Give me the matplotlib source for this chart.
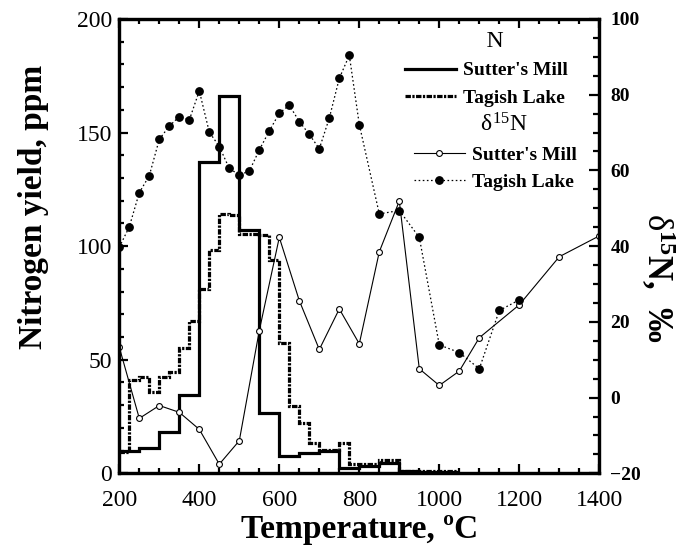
import matplotlib
matplotlib.use('Agg')
import matplotlib.pyplot as plt
from matplotlib.ticker import MultipleLocator
from matplotlib.lines import Line2D

plt.rcParams['font.family'] = ['Liberation Serif', 'DejaVu Serif']
plt.rcParams['mathtext.fontset'] = 'custom'
plt.rcParams['mathtext.rm'] = 'Liberation Serif'
plt.rcParams['mathtext.bf'] = 'Liberation Serif:bold'
plt.rcParams['mathtext.it'] = 'Liberation Serif:italic'

# ---- Nitrogen yield (ppm), step data ----
sm_edges = [200, 250, 300, 350, 400, 450, 500, 550, 600, 650, 700, 750, 800, 850, 900, 950, 1000, 1050]
sm_n = [10.0, 11.0, 18.3, 34.5, 137, 166, 107, 26.5, 7.5, 9.0, 10.0, 2.3, 3.0, 4.5, 1.0, 0.6, 0.6]

tl_edges = [200, 225, 250, 275, 300, 325, 350, 375, 400, 425, 450, 475, 500, 525, 550, 575,
            600, 625, 650, 675, 700, 725, 750, 775, 800, 850, 900, 950, 1000, 1050]
tl_n = [9.5, 41, 42.5, 35.6, 42.5, 44.4, 55, 67, 81, 98.3, 114, 113.5, 105.5, 105.5, 105, 94,
        57.5, 29.6, 22, 13.2, 10.3, 10.3, 13.5, 4.0, 4.2, 6.0, 1.0, 1.0, 1.0]

# ---- delta 15N (permil) ----
sm_dT = [200, 250, 300, 350, 400, 450, 500, 550, 600, 650, 700, 750, 800, 850, 900, 950,
         1000, 1050, 1100, 1200, 1300, 1400]
sm_d = [13.3, -5.5, -2.1, -3.9, -8.4, -17.6, -11.4, 17.7, 42.3, 25.6, 12.7, 23.4, 14.2, 38.5,
        51.9, 7.6, 3.2, 7.0, 15.8, 24.5, 37.2, 42.7]

tl_dT = [200, 225, 250, 275, 300, 325, 350, 375, 400, 425, 450, 475, 500, 525, 550, 575, 600,
         625, 650, 675, 700, 725, 750, 775, 800, 850, 900, 950, 1000, 1050, 1100, 1150, 1200]
tl_d = [39.7, 45.1, 54.1, 58.6, 68.2, 71.7, 74.2, 73.3, 81.0, 70.1, 66.3, 60.5, 58.8, 59.8, 65.4,
        70.4, 75.1, 77.2, 72.9, 69.5, 65.7, 73.8, 84.3, 90.4, 72.1, 48.5, 49.4, 42.3, 13.9, 11.9,
        7.6, 23.0, 25.8]

series_labels = ["Sutter's Mill", "Tagish Lake"]

tl_ls = (0, (1.7, 0.45, 0.7, 0.45))
dot_ls = (0, (1.3, 2.0))

fig = plt.figure(figsize=(6.92, 5.57), dpi=100)
ax = fig.add_axes([119.3 / 692, 1 - 473.3 / 557, 480 / 692, 454.4 / 557])

ax.stairs(sm_n, sm_edges, baseline=None, color='black', lw=2.3, linestyle='-')
ax.stairs(tl_n, tl_edges, baseline=None, color='black', lw=2.3, linestyle=tl_ls)

ax.set_xlim(200, 1400)
ax.set_ylim(0, 200)
ax.xaxis.set_major_locator(MultipleLocator(200))
ax.xaxis.set_minor_locator(MultipleLocator(50))
ax.yaxis.set_major_locator(MultipleLocator(50))
ax.yaxis.set_minor_locator(MultipleLocator(10))
ax.tick_params(which='both', direction='in', top=True, right=False, width=1.6, labelsize=17)
ax.tick_params(which='major', length=6.5)
ax.tick_params(which='minor', length=3.8)
ax.tick_params(axis='x', pad=12)
ax.tick_params(axis='y', pad=5)
for s in ax.spines.values():
    s.set_linewidth(2.3)

ax.set_xlabel('Temperature, ºC', fontsize=24, fontweight='bold', labelpad=2)
ax.set_ylabel('Nitrogen yield, ppm', fontsize=24, fontweight='bold', labelpad=20)
ax.yaxis.label.set_y(0.586)

ax2 = ax.twinx()
ax2.plot(sm_dT, sm_d, '-', marker='o', color='black', lw=0.8, mfc='white', ms=4.2, mew=0.8)
ax2.plot(tl_dT, tl_d, linestyle=dot_ls, marker='o', color='black', lw=0.9, ms=5.3)
ax2.set_ylim(-20, 100)
ax2.yaxis.set_major_locator(MultipleLocator(20))
ax2.yaxis.set_minor_locator(MultipleLocator(5))
ax2.tick_params(which='both', direction='in', width=1.6, labelsize=14, pad=8)
ax2.tick_params(which='major', length=7)
ax2.tick_params(which='minor', length=4)
for lab in ax2.get_yticklabels():
    lab.set_fontweight('bold')
for s in ax2.spines.values():
    s.set_linewidth(2.3)
ax2.set_ylabel(r'$\mathrm{\delta}^{\mathbf{15}}$N,  ‰', rotation=270, fontsize=25,
               fontweight='bold', labelpad=26)
ax2.yaxis.label.set_y(0.43)

# legends
h1 = [Line2D([], [], color='black', lw=2.3), Line2D([], [], color='black', lw=2.3, linestyle=tl_ls)]
leg1 = ax2.legend(h1, series_labels, loc='upper left', bbox_to_anchor=(405 / 692, 1 - 31 / 557),
                  bbox_transform=fig.transFigure, frameon=False, title='   N',
                  title_fontproperties={'size': 17, 'family': 'Liberation Serif'},
                  prop={'size': 14, 'weight': 'bold'}, handlelength=2.6, handletextpad=0.4,
                  borderpad=0, borderaxespad=0, labelspacing=0.5)
ax2.add_artist(leg1)
h2 = [Line2D([], [], color='black', lw=0.8, marker='o', mfc='white', ms=4.2, mew=0.8),
      Line2D([], [], color='black', lw=0.9, marker='o', ms=5.3, linestyle=dot_ls)]
leg2 = ax2.legend(h2, series_labels, loc='upper left', bbox_to_anchor=(414 / 692, 1 - 113 / 557),
                  bbox_transform=fig.transFigure, frameon=False, title=r'   δ$^{15}$N',
                  title_fontproperties={'size': 17, 'family': 'Liberation Serif'},
                  prop={'size': 14, 'weight': 'bold'}, handlelength=2.6, handletextpad=0.4,
                  borderpad=0, borderaxespad=0, labelspacing=0.5)

fig.savefig('out.png', dpi=100)
